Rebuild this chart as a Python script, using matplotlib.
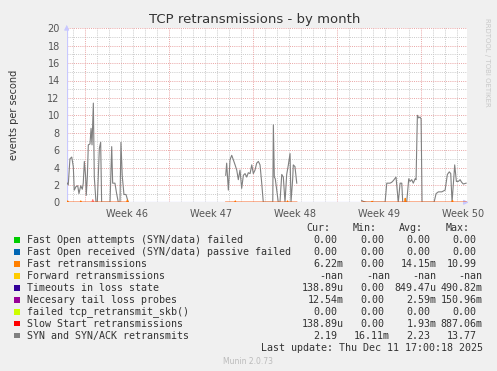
import numpy as np
import matplotlib
matplotlib.use("Agg")
from matplotlib import pyplot as plt

nan = np.nan

# time axis: days since Monday 10 Nov 2025 00:00 (start of week 46)
x_start, x_end = -1.55, 31.78
week_starts = [0, 7, 14, 21, 28]
week_labels = ["Week 46", "Week 47", "Week 48", "Week 49", "Week 50"]

# SYN and SYN/ACK retransmits (events per second), gaps are missing data
syn_days = [-1.50, -1.42, -1.28, -1.13, -1.00, -0.92, -0.78, -0.63, -0.53, -0.38, -0.25, -0.17,
            -0.08, 0.03, 0.08, 0.17, 0.25, 0.39, 0.48, 0.56, 0.67, 0.75, 0.89, 1.00, 1.17, 1.28,
            1.36, 1.78, 2.06, 2.20, 2.28, 2.47, 2.61, 2.75, 2.89, 2.97, 3.08, 3.22, 3.39, 3.58,
            3.60,
            11.70, 11.78, 11.92, 12.06, 12.20, 12.33, 12.48, 12.62, 12.75, 12.89, 13.03, 13.17,
            13.31, 13.45, 13.58, 13.73, 13.87, 14.00, 14.14, 14.28, 14.42, 14.56, 14.70, 14.83,
            15.62, 15.67, 15.75, 15.83, 16.08, 16.22, 16.37, 16.50, 16.64, 16.78, 16.92, 17.06,
            17.14, 17.28, 17.33, 17.47, 17.62,
            17.65,
            23.03, 23.17, 23.45, 24.98, 25.12, 25.25, 25.39, 25.53, 25.67, 25.89, 26.08, 26.23,
            26.37, 26.45, 26.78, 26.95, 27.06, 27.20, 27.33, 27.48, 27.56, 27.67, 27.78, 27.89,
            27.98, 28.06, 29.06, 29.23, 29.42, 29.70, 29.98, 30.17, 30.33, 30.45, 30.56, 30.78,
            30.92, 31.08, 31.23, 31.36, 31.50, 31.73]
syn_vals = [2.2, 2.0, 5.0, 5.2, 4.1, 1.4, 1.8, 1.9, 1.0, 1.9, 1.5, 2.2,
            4.7, 2.9, 0.8, 2.9, 6.6, 6.7, 8.5, 6.6, 11.4, 2.9, 0.0, 0.0, 6.2, 6.9,
            0.0, 0.0, 0.0, 6.4, 2.2, 2.2, 1.0, 0.0, 0.0, 6.9, 3.0, 0.9, 0.9, 0.0,
            nan,
            3.1, 4.5, 1.4, 4.9, 5.4, 4.9, 4.3, 3.7, 2.6, 3.7, 1.6, 3.1,
            3.3, 2.9, 3.4, 3.3, 4.3, 3.3, 3.7, 4.5, 4.7, 4.3, 2.2, 0.0,
            0.0, 8.9, 2.9, 2.7, 0.0, 0.0, 3.2, 2.9, 0.0, 3.2, 4.3, 5.6,
            0.0, 2.7, 4.3, 4.1, 2.2,
            nan,
            0.2, 0.1, 0.0, 0.0, 2.2, 2.2, 2.2, 2.3, 2.5, 2.9, 0.0, 2.2,
            2.2, 0.0, 0.0, 2.7, 2.4, 2.6, 2.2, 2.7, 2.6, 10.0, 9.7, 9.8,
            9.6, 0.0, 0.0, 1.0, 1.2, 1.2, 1.4, 3.2, 3.5, 3.3, 0.0, 4.3,
            2.4, 2.4, 2.6, 2.3, 2.1, 2.2]

# Fast retransmissions
fast_days = [-1.50, -1.47, -1.43, -0.42, -0.38, -0.34, 3.45, 3.50, 3.58, nan,
             11.70, 12.46, 12.50, 12.54, 16.81, 16.85, 16.89, 17.62, nan,
             23.03, 23.86, 23.90, 23.94, 26.62, 26.66, 26.70, 30.56, 30.60, 30.64, 31.73]
fast_vals = [0.0, 0.15, 0.0, 0.0, 0.15, 0.0, 0.0, 0.25, 0.0, nan,
             0.0, 0.0, 0.15, 0.0, 0.0, 0.15, 0.0, 0.0, nan,
             0.0, 0.0, 0.12, 0.0, 0.0, 0.45, 0.0, 0.0, 0.2, 0.0, 0.0]

# Slow Start retransmissions
slow_days = [-1.50, 0.55, 0.62, 0.70, 3.58, nan, 11.70, 17.62, nan, 23.03, 31.73]
slow_vals = [0.0, 0.0, 0.3, 0.0, 0.0, nan, 0.0, 0.0, nan, 0.0, 0.0]

series_names = ["Fast Open attempts (SYN/data) failed",
                "Fast Open received (SYN/data) passive failed",
                "Fast retransmissions",
                "Forward retransmissions",
                "Timeouts in loss state",
                "Necesary tail loss probes",
                "failed tcp_retransmit_skb()",
                "Slow Start retransmissions",
                "SYN and SYN/ACK retransmits"]
series_colors = ["#00CC00", "#0066B3", "#FF8000", "#FFCC00", "#330099",
                 "#990099", "#CCFF00", "#FF0000", "#808080"]
cur_vals = ["0.00", "0.00", "6.22m", "-nan", "138.89u", "12.54m", "0.00", "138.89u", "2.19"]
min_vals = ["0.00", "0.00", "0.00", "-nan", "0.00", "0.00", "0.00", "0.00", "16.11m"]
avg_vals = ["0.00", "0.00", "14.15m", "-nan", "849.47u", "2.59m", "0.00", "1.93m", "2.23"]
max_vals = ["0.00", "0.00", "10.99", "-nan", "490.82m", "150.96m", "0.00", "887.06m", "13.77"]

W, H = 497, 371
fig = plt.figure(figsize=(W / 100, H / 100), dpi=100, facecolor="#F0F0F0")
ax = fig.add_axes([66.7 / W, 1 - 202.3 / H, 400 / W, 174 / H])
ax.set_facecolor("white")
ax.set_xlim(x_start, x_end)
ax.set_ylim(0, 20)

# grid: minor gray dotted, major red dotted
dot = (0, (1, 1.2))
for d in np.arange(-1, 32):
    if d in week_starts:
        continue
    ax.axvline(d, color="#CACACA", lw=0.7, ls=dot, zorder=1)
for v in range(1, 21, 2):
    ax.axhline(v, color="#CACACA", lw=0.7, ls=dot, zorder=1)
for d in week_starts:
    ax.axvline(d, color="#E9A4A4", lw=0.7, ls=dot, zorder=1.5)
for v in range(2, 21, 2):
    ax.axhline(v, color="#E9A4A4", lw=0.7, ls=dot, zorder=1.5)

ax.plot(syn_days, syn_vals, color="#808080", lw=0.8, zorder=3)
ax.plot(fast_days, fast_vals, color="#FF8000", lw=0.9, zorder=4)
ax.plot(slow_days, slow_vals, color="#FF0000", lw=0.8, alpha=0.55, zorder=5)

for s in ax.spines.values():
    s.set_visible(False)
axis_col = "#C8C8FF"
ax.axhline(0, color=axis_col, lw=0.9, zorder=2)
ax.axvline(x_start, color=axis_col, lw=0.9, zorder=2)
ax.annotate("", xy=(1.012, 0), xytext=(0.99, 0), xycoords="axes fraction",
            arrowprops=dict(arrowstyle="-|>", color=axis_col, lw=0.8, mutation_scale=7),
            annotation_clip=False)
ax.annotate("", xy=(0, 1.035), xytext=(0, 0.99), xycoords="axes fraction",
            arrowprops=dict(arrowstyle="-|>", color=axis_col, lw=0.8, mutation_scale=7),
            annotation_clip=False)

ax.set_yticks(range(0, 21, 2))
ax.set_xticks([w + 3.5 for w in week_starts])
ax.set_xticklabels(week_labels)
ax.tick_params(axis="both", length=0, labelsize=7, colors="#555555")
ax.tick_params(axis="y", pad=5)
ax.tick_params(axis="x", pad=4.5)

fig.text(255 / W, 1 - 19 / H, "TCP retransmissions - by month", ha="center", va="center",
         fontsize=9.5, color="#333333")
fig.text(14 / W, 1 - 115 / H, "events per second", ha="center", va="center",
         rotation=90, fontsize=7, color="#333333")
fig.text(487 / W, 1 - 62 / H, "RRDTOOL / TOBI OETIKER", ha="center", va="center",
         rotation=270, fontsize=5, color="#C8C8C8")

mono = "DejaVu Sans Mono"
txt_col = "#333333"
def px(x, y):
    return x / W, 1 - y / H

for name, right in zip(["Cur:", "Min:", "Avg:", "Max:"], [330, 376.7, 422.7, 470]):
    fig.text(*px(right, 228.3), name, ha="right", va="center", family=mono, fontsize=7.2, color=txt_col)

col_rights = [343.3, 390, 436.7, 482.7]
for i, name in enumerate(series_names):
    y = 240 + i * 11.97
    fig.patches.append(plt.Rectangle(px(14.3, y + 2.7), 5.3 / W, 5.3 / H, transform=fig.transFigure,
                                     facecolor=series_colors[i], edgecolor="none"))
    fig.text(*px(26.7, y), name, ha="left", va="center", family=mono, fontsize=7.2, color=txt_col)
    for vals, right in zip([cur_vals, min_vals, avg_vals, max_vals], col_rights):
        s = vals[i]
        r = right if s[-1].isalpha() else right - 6
        fig.text(*px(r, y), s, ha="right", va="center", family=mono, fontsize=7.2, color=txt_col)

fig.text(*px(482.7, 347.7), "Last update: Thu Dec 11 17:00:18 2025", ha="right", va="center",
         family=mono, fontsize=7.2, color=txt_col)
fig.text(*px(248, 361), "Munin 2.0.73", ha="center", va="center", fontsize=5.5, color="#BBBBBB")

fig.savefig("out.png", dpi=100, facecolor=fig.get_facecolor())
